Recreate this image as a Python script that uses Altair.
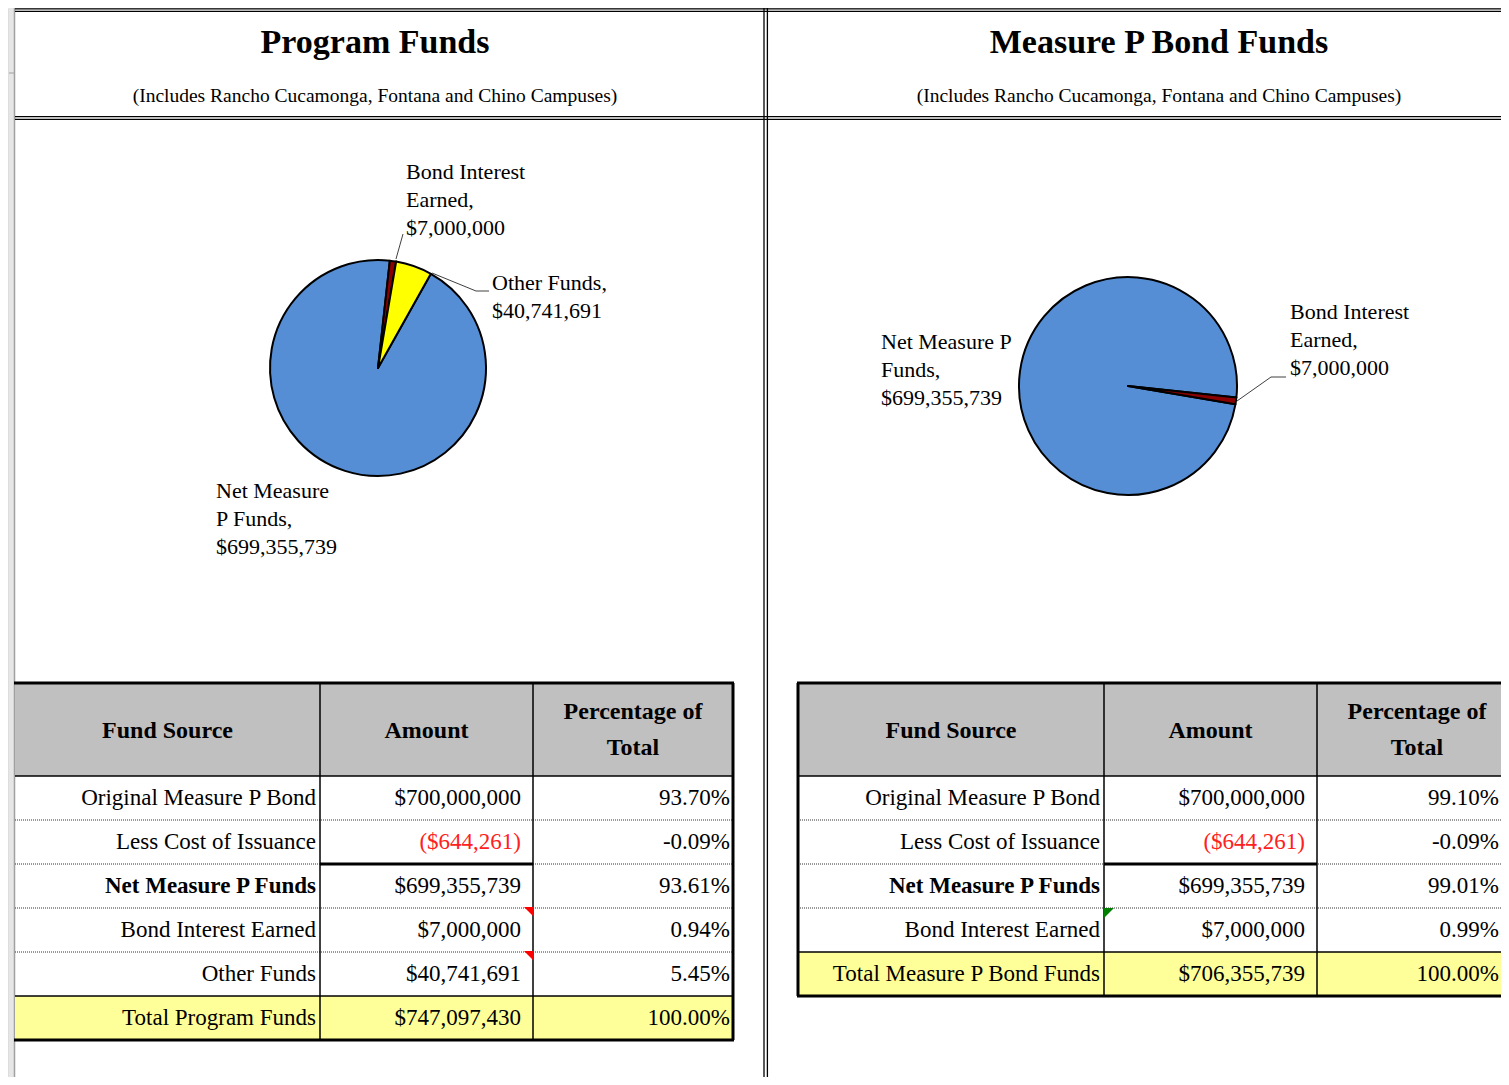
import math
import altair as alt
import pandas as pd

# ---------------- data ----------------
titles = ["Program Funds", "Measure P Bond Funds"]
subtitle = "(Includes Rancho Cucamonga, Fontana and Chino Campuses)"
table_headers = ["Fund Source", "Amount", "Percentage of", "Total"]

program_sources = ["Original Measure P Bond", "Less Cost of Issuance", "Net Measure P Funds",
                   "Bond Interest Earned", "Other Funds", "Total Program Funds"]
program_amounts = [700000000, -644261, 699355739, 7000000, 40741691, 747097430]

bond_sources = ["Original Measure P Bond", "Less Cost of Issuance", "Net Measure P Funds",
                "Bond Interest Earned", "Total Measure P Bond Funds"]
bond_amounts = [700000000, -644261, 699355739, 7000000, 706355739]

program_pie_names = ["Net Measure P Funds", "Bond Interest Earned", "Other Funds"]
program_pie_values = [699355739, 7000000, 40741691]
program_pie_label_lines = [["Net Measure", "P Funds,"], ["Bond Interest", "Earned,"], ["Other Funds,"]]

bond_pie_names = ["Net Measure P Funds", "Bond Interest Earned"]
bond_pie_values = [699355739, 7000000]
bond_pie_label_lines = [["Net Measure P", "Funds,"], ["Bond Interest", "Earned,"]]

# ---------------- helpers ----------------
FONT = "Liberation Serif"
XS = alt.Scale(domain=[8, 1501], nice=False, zero=False)
YS = alt.Scale(domain=[8, 1077], nice=False, zero=False, reverse=True)
PIE_COLORS = {"Net Measure P Funds": "#558ED5", "Bond Interest Earned": "#8B0000", "Other Funds": "#FFFF00"}


def money(v):
    return f"${v:,}" if v >= 0 else f"(${-v:,})"


def pct(v, total):
    return f"{v / total * 100:.2f}%"


def xy():
    return dict(x=alt.X("x:Q", scale=XS, axis=None), y=alt.Y("y:Q", scale=YS, axis=None))


def texts(rows, size, align="left", weight="normal", color="black"):
    df = pd.DataFrame(rows, columns=["x", "y", "t"])
    return alt.Chart(df).mark_text(font=FONT, fontSize=size, align=align, baseline="middle",
                                   fontWeight=weight, color=color).encode(text="t:N", **xy())


def rules(segs, color="black", width=1.0, dash=None):
    df = pd.DataFrame(segs, columns=["x", "y", "x2", "y2"])
    kw = dict(color=color, strokeWidth=width)
    if dash:
        kw["strokeDash"] = dash
    return alt.Chart(df).mark_rule(**kw).encode(x2="x2:Q", y2="y2:Q", **xy())


def rects(boxes, fill):
    df = pd.DataFrame(boxes, columns=["x", "y", "x2", "y2"])
    return alt.Chart(df).mark_rect(color=fill).encode(x2="x2:Q", y2="y2:Q", **xy())


def triangles(pts, path, color):
    df = pd.DataFrame(pts, columns=["x", "y"])
    return alt.Chart(df).mark_point(shape=path, filled=True, size=100, color=color,
                                    opacity=1, strokeWidth=0).encode(**xy())


def pie(names, values, cx, cy, r, start_deg):
    df = pd.DataFrame({"name": names, "value": values, "idx": list(range(len(names)))})
    s = math.radians(start_deg)
    return alt.Chart(df).mark_arc(radius=r, stroke="black", strokeWidth=2, strokeJoin="round").encode(
        theta=alt.Theta("value:Q", stack=True, scale=alt.Scale(range=[s, s + 2 * math.pi])),
        color=alt.Color("name:N", legend=None,
                        scale=alt.Scale(domain=list(PIE_COLORS.keys()), range=list(PIE_COLORS.values()))),
        order=alt.Order("idx:Q"),
        x=alt.value(cx - 8), y=alt.value(cy - 8),
    )


def pie_labels(names, values, lines, anchors):
    rows = []
    for name, val, ls in zip(names, values, lines):
        if name not in anchors:
            continue
        ax, ay = anchors[name]
        for i, t in enumerate(ls + [money(val)]):
            rows.append((ax, ay + 28 * i, t))
    return texts(rows, 22)


def table(sources, amounts, x0, x1, c1, c2, bold_name, pct_x):
    layers = []
    n = len(sources)
    top, hdr, rh = 683, 776, 44
    bottom = hdr + rh * n
    total = amounts[-1]
    layers.append(rects([(x0, top, x1, hdr)], "#C0C0C0"))
    layers.append(rects([(x0, bottom - rh, x1, bottom)], "#FFFF99"))
    dotted = [(x0, hdr + rh * i, x1, hdr + rh * i) for i in range(1, n - 1)]
    layers.append(rules(dotted, color="#333333", width=1, dash=[1, 1]))
    layers.append(rules([(x0, hdr, x1, hdr), (x0, bottom - rh, x1, bottom - rh),
                         (c1, top, c1, bottom), (c2, top, c2, bottom)], width=1.5))
    layers.append(rules([(c1, hdr + 2 * rh, c2, hdr + 2 * rh)], width=3))
    layers.append(rules([(x0 - 1, top, x1 + 1, top), (x0 - 1, bottom, x1 + 1, bottom),
                         (x1, top, x1, bottom)], width=3))
    # header
    hx = [(x0 + c1) / 2, (c1 + c2) / 2, (c2 + x1) / 2]
    layers.append(texts([(hx[0], 731, table_headers[0]), (hx[1], 731, table_headers[1]),
                         (hx[2], 712, table_headers[2]), (hx[2], 748, table_headers[3])],
                        24, align="center", weight="bold"))
    normal_src, bold_src, amt_pos, amt_neg, pcts = [], [], [], [], []
    for i, (s, a) in enumerate(zip(sources, amounts)):
        yc = hdr + rh * i + rh / 2
        (bold_src if s == bold_name else normal_src).append((c1 - 4, yc, s))
        (amt_neg if a < 0 else amt_pos).append((c2 - 12, yc, money(a)))
        pcts.append((pct_x, yc, pct(a, total)))
    layers.append(texts(normal_src, 23, align="right"))
    layers.append(texts(bold_src, 23, align="right", weight="bold"))
    layers.append(texts(amt_pos, 23, align="right"))
    layers.append(texts(amt_neg, 23, align="right", color="#FF2020"))
    layers.append(texts(pcts, 23, align="right"))
    return layers


layers = []

# sheet frame
layers.append(rects([(9, 8, 14, 1077)], "#E6E6E6"))
layers.append(rules([(14.5, 8, 14.5, 1077)], color="#A0A0A0", width=1.5))
layers.append(rules([(9, 73, 14, 73)], color="#A0A0A0", width=1))
layers.append(rules([(15, 8.8, 1501, 8.8), (15, 11.4, 1501, 11.4),
                     (15, 116.6, 1501, 116.6), (15, 119.3, 1501, 119.3),
                     (764, 8, 764, 1077), (767.4, 8, 767.4, 1077)], width=1.3))

# titles
layers.append(texts([(375, 43, titles[0]), (1159, 43, titles[1])], 34, align="center", weight="bold"))
layers.append(texts([(375, 96, subtitle), (1159, 96, subtitle)], 19.5, align="center"))

# pies
layers.append(pie(program_pie_names, program_pie_values, 378, 368, 108, 29.3))
layers.append(pie(bond_pie_names, bond_pie_values, 1128, 386, 109, 99.6))

# leader lines
layers.append(rules([(396, 259, 403, 234), (432, 273, 476, 291), (476, 291, 489, 291),
                     (1237, 401, 1271, 377), (1271, 377, 1286, 377)], color="#404040", width=1))

# pie labels
layers.append(pie_labels(program_pie_names, program_pie_values, program_pie_label_lines,
                         {"Net Measure P Funds": (216, 491), "Bond Interest Earned": (406, 172),
                          "Other Funds": (492, 283)}))
layers.append(pie_labels(bond_pie_names, bond_pie_values, bond_pie_label_lines,
                         {"Net Measure P Funds": (881, 342), "Bond Interest Earned": (1290, 312)}))

# tables
layers += table(program_sources, program_amounts, 15, 733, 320, 533, "Net Measure P Funds", 730)
layers += table(bond_sources, bond_amounts, 798, 1517, 1104, 1317, "Net Measure P Funds", 1499)
layers.append(rules([(798, 683, 798, 996)], width=3))

# comment indicators
layers.append(triangles([(529, 912), (529, 956)], "M -1 -1 L 1 -1 L 1 1 Z", "#FF0000"))
layers.append(triangles([(1109, 913)], "M -1 -1 L 1 -1 L -1 1 Z", "#008000"))

chart = alt.layer(*layers).resolve_scale(theta="independent").properties(
    width=1493, height=1069, padding=0, autosize="none"
).configure_view(stroke=None).configure(background="white")

chart.save("out.html", embed_options={"renderer": "svg", "actions": False})
